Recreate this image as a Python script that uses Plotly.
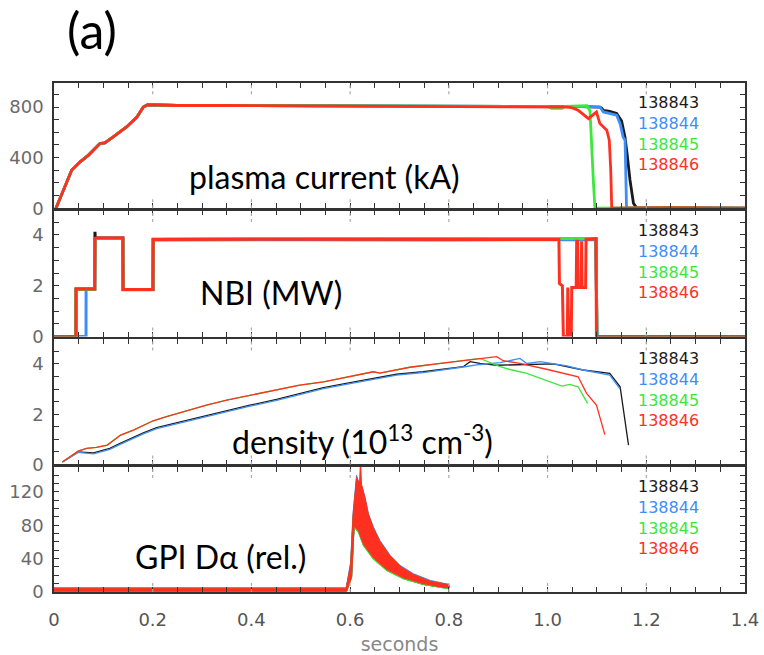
import plotly.graph_objects as go

# ---------------- data ----------------
shots = ["138843", "138844", "138845", "138846"]
colors = ["#1a1a1a", "#3e8ef7", "#3be83b", "#ff3020"]

# plasma current (kA)
ip_t_ramp = [0.004, 0.019, 0.036, 0.053, 0.07, 0.093, 0.103, 0.12, 0.147, 0.168, 0.181, 0.19,
             0.25, 0.35, 0.45, 0.55, 0.65, 0.75, 0.85, 0.95, 1.0]
ip_v_ramp = [0, 144, 302, 367, 420, 512, 517, 564, 643, 721, 800, 818,
             812, 812, 810, 810, 808, 808, 807, 806, 805]
ip_t_end = {
    "138843": [1.05, 1.1, 1.106, 1.11, 1.113, 1.126, 1.14, 1.15, 1.157, 1.161, 1.167, 1.174, 1.18, 1.25, 1.4],
    "138844": [1.05, 1.1, 1.106, 1.113, 1.126, 1.14, 1.147, 1.153, 1.157, 1.159, 1.16, 1.25, 1.4],
    "138845": [1.008, 1.029, 1.035, 1.08, 1.086, 1.089, 1.093, 1.096, 1.25, 1.4],
    "138846": [1.039, 1.049, 1.062, 1.083, 1.096, 1.099, 1.106, 1.12, 1.125, 1.128, 1.13, 1.25, 1.4],
}
ip_v_end = {
    "138843": [805, 805, 800, 790, 774, 765, 750, 690, 560, 433, 223, 39, 5, 3, 0],
    "138844": [805, 805, 800, 761, 748, 735, 669, 564, 538, 223, 0, 4, 0],
    "138845": [790, 790, 805, 810, 768, 485, 200, 0, 5, 0],
    "138846": [800, 795, 774, 708, 748, 761, 669, 617, 538, 300, 0, 4, 0],
}

# NBI power (MW)
nbi_t = {
    "138843": [0, 0.0445, 0.0446, 0.0825, 0.083, 0.0835, 0.1395, 0.140, 0.2005, 0.201, 0.5, 0.8, 1.098, 1.1, 1.4],
    "138844": [0, 0.0649, 0.065, 0.0825, 0.083, 0.0835, 0.1395, 0.140, 0.2005, 0.201, 0.5, 0.8, 1.098, 1.1, 1.4],
    "138845": [0, 0.0445, 0.0446, 0.0825, 0.083, 0.0835, 0.1395, 0.140, 0.2005, 0.201, 0.5, 0.8, 1.098, 1.1, 1.4],
    "138846": [0, 0.0445, 0.0446, 0.0825, 0.083, 0.0835, 0.1395, 0.140, 0.2005, 0.201, 0.5, 0.8,
               1.023, 1.024, 1.030, 1.032, 1.040, 1.041, 1.043, 1.048, 1.049, 1.058, 1.059, 1.061,
               1.062, 1.068, 1.069, 1.070, 1.077, 1.078, 1.098, 1.099, 1.4],
}
nbi_v = {
    "138843": [0, 0, 1.87, 1.87, 4.12, 3.88, 3.88, 1.85, 1.85, 3.82, 3.83, 3.82, 3.84, 0, 0],
    "138844": [0, 0, 1.85, 1.85, 3.88, 3.86, 3.86, 1.84, 1.84, 3.80, 3.81, 3.80, 3.82, 0, 0],
    "138845": [0, 0, 1.86, 1.86, 3.86, 3.86, 3.86, 1.85, 1.85, 3.84, 3.85, 3.86, 3.86, 0, 0],
    "138846": [0, 0, 1.87, 1.87, 3.9, 3.88, 3.88, 1.85, 1.85, 3.82, 3.83, 3.82,
               3.82, 2.09, 2.0, 0, 0, 1.93, 0, 0, 1.93, 1.93, 3.75, 3.75,
               1.93, 1.93, 3.75, 1.93, 1.93, 3.82, 3.85, 0, 0],
}

# density (1e13 cm^-3)
ne_t = {
    "138843": [0.017, 0.049, 0.08, 0.113, 0.134, 0.161, 0.181, 0.208, 0.242, 0.269, 0.296, 0.33, 0.363,
               0.397, 0.451, 0.498, 0.546, 0.6, 0.647, 0.694, 0.748, 0.789, 0.829, 0.843, 0.863, 0.897,
               0.971, 1.012, 1.072, 1.126, 1.147, 1.164],
    "138844": [0.017, 0.049, 0.08, 0.113, 0.134, 0.161, 0.181, 0.208, 0.242, 0.269, 0.296, 0.33, 0.363,
               0.397, 0.451, 0.498, 0.546, 0.6, 0.647, 0.694, 0.748, 0.789, 0.829, 0.863, 0.904, 0.944,
               0.958, 0.985, 1.039, 1.072, 1.126, 1.147],
    "138845": [0.017, 0.049, 0.066, 0.086, 0.108, 0.135, 0.161, 0.181, 0.201, 0.228, 0.255, 0.282, 0.309,
               0.35, 0.377, 0.417, 0.438, 0.498, 0.546, 0.6, 0.647, 0.66, 0.721, 0.775, 0.816, 0.856,
               0.863, 0.904, 0.924, 0.958, 1.029, 1.045, 1.062, 1.081],
    "138846": [0.017, 0.049, 0.066, 0.086, 0.108, 0.135, 0.161, 0.181, 0.201, 0.228, 0.255, 0.282, 0.309,
               0.35, 0.377, 0.417, 0.438, 0.498, 0.546, 0.6, 0.647, 0.66, 0.721, 0.775, 0.816, 0.856,
               0.897, 0.91, 0.944, 1.0, 1.062, 1.079, 1.099, 1.116],
}
ne_v = {
    "138843": [0.1, 0.5, 0.46, 0.64, 0.84, 1.1, 1.26, 1.47, 1.63, 1.76, 1.9, 2.06, 2.23,
               2.36, 2.59, 2.83, 3.06, 3.26, 3.43, 3.59, 3.69, 3.78, 3.89, 4.09, 4.02, 3.95,
               4.0, 4.0, 3.76, 3.63, 3.09, 0.77],
    "138844": [0.1, 0.48, 0.42, 0.6, 0.8, 1.06, 1.22, 1.43, 1.59, 1.72, 1.86, 2.02, 2.19,
               2.32, 2.55, 2.79, 3.02, 3.22, 3.39, 3.56, 3.66, 3.76, 3.88, 3.98, 4.05, 4.22,
               4.02, 4.09, 3.92, 3.76, 3.56, 3.0],
    "138845": [0.1, 0.53, 0.64, 0.68, 0.77, 1.17, 1.37, 1.57, 1.74, 1.9, 2.06, 2.23, 2.36,
               2.56, 2.67, 2.85, 2.93, 3.16, 3.29, 3.49, 3.69, 3.64, 3.87, 4.0, 4.09, 4.18,
               4.22, 3.89, 3.78, 3.63, 3.12, 3.19, 3.09, 2.43],
    "138846": [0.1, 0.53, 0.64, 0.68, 0.77, 1.17, 1.37, 1.57, 1.74, 1.9, 2.06, 2.23, 2.36,
               2.56, 2.67, 2.85, 2.93, 3.16, 3.29, 3.49, 3.69, 3.64, 3.87, 4.0, 4.09, 4.18,
               4.29, 4.13, 4.02, 3.78, 3.49, 2.83, 2.36, 1.19],
}

# GPI D-alpha (relative): upper and lower envelopes of the fluctuating signal
gpi_t_up = [0.0, 0.1, 0.3, 0.59, 0.592, 0.601, 0.606, 0.613, 0.619, 0.621,
            0.623, 0.63, 0.637, 0.647, 0.66, 0.681, 0.701, 0.728, 0.762, 0.8]
gpi_t_lo = [0.0, 0.3, 0.59, 0.593, 0.603, 0.608, 0.617, 0.627, 0.647, 0.674, 0.708, 0.748, 0.789, 0.8]
gpi_up = {
    "138843": [4, 4, 4, 4, 4, 30, 88, 132, 125, 125, 124, 110, 90, 75, 59, 42, 30, 20, 12, 8],
    "138844": [5, 5, 5, 5, 5, 36, 95, 140, 128, 128, 128, 114, 94, 78, 62, 44, 32, 22, 14, 9],
    "138845": [4, 4, 4, 4, 4, 31, 90, 134, 126, 126, 126, 111, 91, 76, 60, 42, 30, 20, 13, 8],
    "138846": [4.5, 4.5, 4.5, 4.5, 4.5, 33, 93, 137, 130, 158, 129, 113, 93, 77, 61, 43, 31, 21, 13, 9],
}
gpi_lo = {
    "138843": [1, 1, 1, 1, 18, 78, 72, 56, 40, 26, 16, 9, 5, 4.5],
    "138844": [1, 1, 1, 1, 20, 79, 73, 57, 41, 27, 17, 10, 5.5, 5],
    "138845": [0.8, 0.8, 0.8, 0.8, 17, 77, 71, 55, 39, 25.5, 15.5, 9, 4.8, 4.2],
    "138846": [1, 1, 1, 1, 18, 79, 73, 57, 41, 27, 17, 10, 5.5, 5],
}

x_tickvals = [0, 0.2, 0.4, 0.6, 0.8, 1.0, 1.2, 1.4]
x_ticktext = ["0", "0.2", "0.4", "0.6", "0.8", "1.0", "1.2", "1.4"]

panel_labels = ["plasma current (kA)", "NBI (MW)",
                "density (10<sup>13</sup> cm<sup>-3</sup>)", "GPI D\u03b1 (rel.)"]
y_ranges = [[0, 990], [0, 4.95], [0, 4.98], [0, 150]]
y_tickvals = [[0, 400, 800], [0, 2, 4], [0, 2, 4], [0, 40, 80, 120]]
y_minor = [100, 0.5, 0.5, 10]

# ---------------- figure ----------------
W, H = 764, 655
L, R, T, B = 54, 745, 83, 592.3
pw, ph = R - L, B - T

def px2paper_x(px):
    return (px - L) / pw

def px2paper_y(py):
    return (B - py) / ph

panel_px = [(83, 208.3), (210.8, 336.7), (339.5, 464.7), (467.0, 592.3)]
domains = [[px2paper_y(b), px2paper_y(t)] for t, b in panel_px]

fig = go.Figure()

def ax(i):
    return ("x" if i == 0 else f"x{i+1}"), ("y" if i == 0 else f"y{i+1}")

xa, ya = ax(0)
for s, c in zip(shots, colors):
    fig.add_trace(go.Scatter(x=ip_t_ramp + ip_t_end[s], y=ip_v_ramp + ip_v_end[s], mode="lines",
                             line=dict(color=c, width=2.8), xaxis=xa, yaxis=ya, showlegend=False))
xa, ya = ax(1)
for s, c in zip(shots, colors):
    fig.add_trace(go.Scatter(x=nbi_t[s], y=nbi_v[s], mode="lines",
                             line=dict(color=c, width=3), xaxis=xa, yaxis=ya, showlegend=False))
xa, ya = ax(2)
for s, c in zip(shots, colors):
    fig.add_trace(go.Scatter(x=ne_t[s], y=ne_v[s], mode="lines",
                             line=dict(color=c, width=1.3), xaxis=xa, yaxis=ya, showlegend=False))
xa, ya = ax(3)
for s, c in zip(shots, colors):
    xs = gpi_t_up + gpi_t_lo[::-1]
    ys = gpi_up[s] + gpi_lo[s][::-1]
    fig.add_trace(go.Scatter(x=xs, y=ys, mode="lines", fill="toself", fillcolor=c,
                             line=dict(color=c, width=1), xaxis=xa, yaxis=ya, showlegend=False))

layout = dict(width=W, height=H, margin=dict(l=L, r=W - R, t=T, b=H - B, autoexpand=False),
              paper_bgcolor="white", plot_bgcolor="white", showlegend=False)

axis_color = "#333333"
for i in range(4):
    xk = "xaxis" if i == 0 else f"xaxis{i+1}"
    yk = "yaxis" if i == 0 else f"yaxis{i+1}"
    yname = "y" if i == 0 else f"y{i+1}"
    xname = "x" if i == 0 else f"x{i+1}"
    layout[xk] = dict(domain=[0, 1], anchor=yname, range=[0, 1.4], showgrid=False, zeroline=False,
                      showline=True, linecolor=axis_color, linewidth=1.5, mirror="ticks",
                      ticks="inside", ticklen=5, tickwidth=1, tickcolor=axis_color,
                      tickmode="array", tickvals=x_tickvals, ticktext=x_ticktext,
                      showticklabels=(i == 3), ticklabelstandoff=11, automargin=False,
                      tickfont=dict(family="DejaVu Sans", size=18, color="#555555"),
                      minor=dict(tickmode="linear", tick0=0, dtick=0.05, ticks="inside",
                                 ticklen=5, tickwidth=1, tickcolor=axis_color))
    if i == 3:
        layout[xk]["title"] = dict(text="seconds", standoff=8,
                                   font=dict(family="DejaVu Sans", size=19, color="#888888"))
    layout[yk] = dict(domain=domains[i], anchor=xname, range=y_ranges[i], showgrid=False,
                      zeroline=False, showline=True, linecolor=axis_color, linewidth=1.5,
                      mirror="ticks", ticks="inside", ticklen=5, tickwidth=1, tickcolor=axis_color,
                      tickmode="array", tickvals=y_tickvals[i], ticklabelstandoff=5, automargin=False,
                      tickfont=dict(family="DejaVu Sans", size=18, color="#6a6a6a"),
                      minor=dict(tickmode="linear", tick0=0, dtick=y_minor[i], ticks="inside",
                                 ticklen=5, tickwidth=1, tickcolor=axis_color))
fig.update_layout(**layout)

shapes = []
for i in range(4):
    xname = "x" if i == 0 else f"x{i+1}"
    yname = "y" if i == 0 else f"y{i+1}"
    for xv in x_tickvals[1:-1]:
        for y0, y1 in [(0, 0.09), (0.91, 1.0)]:
            shapes.append(dict(type="line", xref=xname, yref=f"{yname} domain", x0=xv, x1=xv,
                               y0=y0, y1=y1, line=dict(color="#aaaaaa", width=1.2, dash="dot")))
fig.update_layout(shapes=shapes)

annotations = []
annotations.append(dict(text="(a)", x=px2paper_x(92), y=px2paper_y(30), xref="paper", yref="paper",
                        showarrow=False, font=dict(family="Lato", size=50, color="black"),
                        xanchor="center", yanchor="middle"))
label_pos = [(324, 177), (271, 293), (362, 440), (220, 557)]
for txt, (px, py) in zip(panel_labels, label_pos):
    annotations.append(dict(text=txt, x=px2paper_x(px), y=px2paper_y(py), xref="paper", yref="paper",
                            showarrow=False, font=dict(family="Lato", size=32, color="black"),
                            xanchor="center", yanchor="middle"))
legend_center = [134, 262, 390, 518]
legend_text = "<br>".join(f"<span style='color:{c}'>{s}</span>" for s, c in zip(shots, colors))
for py in legend_center:
    annotations.append(dict(text=legend_text, x=px2paper_x(636), y=px2paper_y(py), xref="paper",
                            yref="paper", showarrow=False, align="left",
                            font=dict(family="DejaVu Sans", size=16, color=colors[0]),
                            xanchor="left", yanchor="middle"))
fig.update_layout(annotations=annotations)

fig.write_html("out.html")
